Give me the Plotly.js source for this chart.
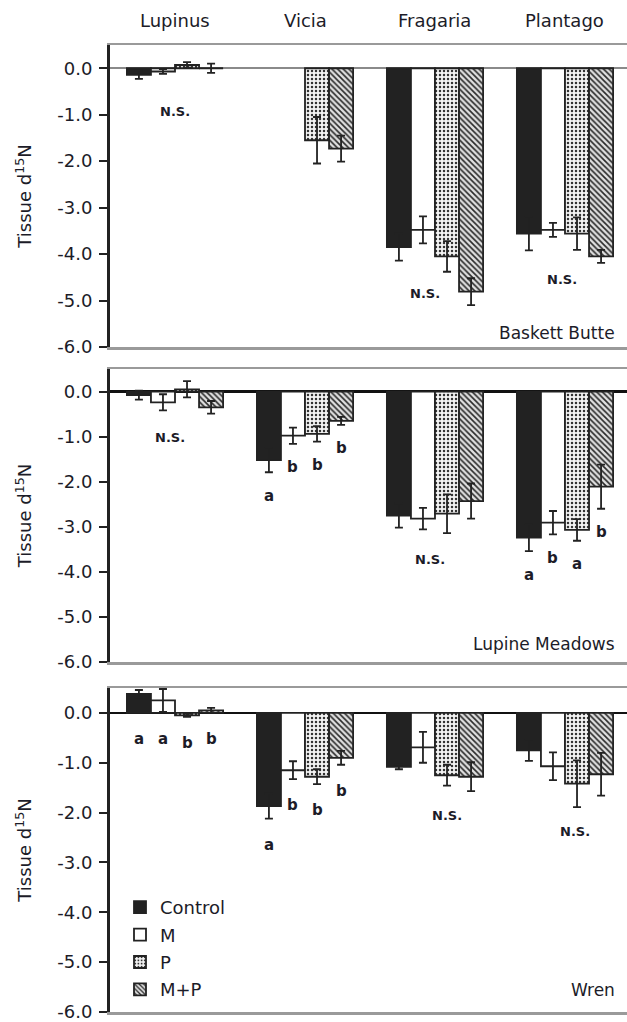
<!DOCTYPE html>
<html>
<head>
<meta charset="utf-8">
<script src="https://cdn.plot.ly/plotly-3.0.1.min.js"></script>
<style>html,body{margin:0;padding:0;background:#fff;}</style>
</head>
<body>
<div id="chart" style="width:627px;height:1022px;"></div>
<script>
// ---- data ----
const categories = ['Lupinus', 'Vicia', 'Fragaria', 'Plantago'];
const seriesNames = ['Control', 'M', 'P', 'M+P'];

// Baskett Butte
const bbControl = [-0.14, null, -3.85, -3.56];
const bbControlErr = [0.09, null, 0.29, 0.36];
const bbM = [-0.07, null, -3.48, -3.48];
const bbMErr = [0.05, null, 0.29, 0.15];
const bbP = [0.07, -1.55, -4.05, -3.56];
const bbPErr = [0.06, 0.50, 0.33, 0.35];
const bbMP = [0.0, -1.73, -4.81, -4.05];
const bbMPErr = [0.10, 0.28, 0.29, 0.14];

// Lupine Meadows
const lmControl = [-0.08, -1.52, -2.75, -3.24];
const lmControlErr = [0.10, 0.27, 0.27, 0.30];
const lmM = [-0.24, -0.98, -2.82, -2.91];
const lmMErr = [0.18, 0.18, 0.24, 0.26];
const lmP = [0.05, -0.94, -2.71, -3.07];
const lmPErr = [0.18, 0.17, 0.43, 0.24];
const lmMP = [-0.35, -0.65, -2.43, -2.11];
const lmMPErr = [0.14, 0.09, 0.39, 0.49];

// Wren
const wrControl = [0.38, -1.87, -1.08, -0.75];
const wrControlErr = [0.08, 0.25, 0.05, 0.21];
const wrM = [0.25, -1.15, -0.69, -1.07];
const wrMErr = [0.23, 0.18, 0.31, 0.28];
const wrP = [-0.05, -1.28, -1.25, -1.42];
const wrPErr = [0.03, 0.15, 0.21, 0.47];
const wrMP = [0.05, -0.90, -1.28, -1.23];
const wrMPErr = [0.05, 0.14, 0.29, 0.43];

const siteNames = ['Baskett Butte', 'Lupine Meadows', 'Wren'];

// significance letters per category index, one per series
const bbLetters = {};
const lmLetters = { 1: ['a', 'b', 'b', 'b'], 3: ['a', 'b', 'a', 'b'] };
const wrLetters = { 0: ['a', 'a', 'b', 'b'], 1: ['a', 'b', 'b', 'b'] };

// N.S. labels: category position and y value
const bbNS = [[0.0, -0.94], [1.92, -4.85], [2.98, -4.55]];
const lmNS = [[-0.04, -1.02], [1.96, -3.73]];
const wrNS = [[2.09, -2.05], [3.08, -2.37]];

const yTickVals = [0, -1, -2, -3, -4, -5, -6];
const yTickText = ['0.0', '-1.0', '-2.0', '-3.0', '-4.0', '-5.0', '-6.0'];

// ---- styling ----
const FONT = 'DejaVu Sans, sans-serif';
const TXT = '#1c1c28';
const LINE = '#222';

const panels = [
  { vals: [bbControl, bbM, bbP, bbMP], errs: [bbControlErr, bbMErr, bbPErr, bbMPErr], letters: bbLetters, ns: bbNS, domain: [1 - 347 / 1022, 1 - 45 / 1022], zero: '#8a8a8a', labelY: -5.7 },
  { vals: [lmControl, lmM, lmP, lmMP], errs: [lmControlErr, lmMErr, lmPErr, lmMPErr], letters: lmLetters, ns: lmNS, domain: [1 - 662 / 1022, 1 - 369 / 1022], zero: '#111', labelY: -5.6 },
  { vals: [wrControl, wrM, wrP, wrMP], errs: [wrControlErr, wrMErr, wrPErr, wrMPErr], letters: wrLetters, ns: wrNS, domain: [1 - 1012 / 1022, 1 - 688 / 1022], zero: '#111', labelY: -5.55 }
];

const markerStyles = [
  { color: '#222222', line: { color: LINE, width: 1.8 } },
  { color: '#ffffff', line: { color: LINE, width: 1.8 } },
  { color: '#ffffff', line: { color: LINE, width: 1.8 }, pattern: { shape: '.', fgcolor: '#333', bgcolor: '#f4f4f4', size: 4, solidity: 0.3 } },
  { color: '#ffffff', line: { color: LINE, width: 1.8 }, pattern: { shape: '\\', fgcolor: '#2a2a2a', bgcolor: '#e0e0e0', size: 4, solidity: 0.4 } }
];

const traces = [];
const layout = {
  width: 627, height: 1022,
  margin: { l: 110, r: 0, t: 0, b: 0 },
  paper_bgcolor: '#fff', plot_bgcolor: '#fff',
  barmode: 'group', bargap: 0.26, bargroupgap: 0,
  showlegend: true,
  legend: {
    x: 10 / 517, xanchor: 'left', y: 1 - 889 / 1022, yanchor: 'top',
    font: { family: FONT, size: 18, color: TXT },
    bgcolor: 'rgba(0,0,0,0)', tracegroupgap: 1, itemwidth: 30
  },
  annotations: [],
  font: { family: FONT, color: TXT }
};

const groupW = 1 - 0.26;
const barW = groupW / 4;

panels.forEach((p, pi) => {
  const ax = pi === 0 ? '' : String(pi + 1);
  const xName = 'x' + ax, yName = 'y' + ax;
  seriesNames.forEach((s, si) => {
    traces.push({
      type: 'bar', name: s, x: categories, y: p.vals[si],
      xaxis: xName, yaxis: yName,
      marker: markerStyles[si],
      error_y: { type: 'data', array: p.errs[si], visible: true, color: LINE, thickness: 1.8, width: 4 },
      showlegend: pi === 2, legendgroup: s, hoverinfo: 'skip'
    });
  });
  layout['xaxis' + ax] = {
    domain: [0, 1], anchor: yName, type: 'category',
    categoryorder: 'array', categoryarray: categories,
    range: [-0.5, 3.477], showline: true, mirror: true,
    linecolor: '#9a9a9a', linewidth: 2.5,
    showticklabels: false, ticks: '', showgrid: false, zeroline: false, fixedrange: true
  };
  layout['yaxis' + ax] = {
    domain: p.domain, anchor: xName, range: [-6, 0.5],
    tickvals: yTickVals, ticktext: yTickText,
    ticks: 'outside', ticklen: 8, tickwidth: 2, tickcolor: LINE,
    ticklabelstandoff: 3, ticklabeloverflow: 'allow',
    showline: true, linecolor: LINE, linewidth: 3,
    zeroline: true, zerolinecolor: p.zero, zerolinewidth: 2.5,
    showgrid: false, fixedrange: true,
    tickfont: { family: FONT, size: 18, color: TXT },
    title: { text: 'Tissue d<sup>15</sup>N', font: { family: FONT, size: 18, color: TXT }, standoff: 21 }
  };
  // site label
  layout.annotations.push({
    xref: 'paper', yref: yName, x: 0.981, y: p.labelY, xanchor: 'right', yanchor: 'middle',
    text: siteNames[pi], showarrow: false, font: { family: FONT, size: 17, color: TXT }
  });
  // N.S.
  p.ns.forEach(n => {
    layout.annotations.push({
      xref: xName, yref: yName, x: n[0], y: n[1], xanchor: 'center', yanchor: 'middle',
      text: '<b>N.S.</b>', showarrow: false, font: { family: FONT, size: 13, color: TXT }
    });
  });
  // letters
  Object.keys(p.letters).forEach(ci => {
    const c = Number(ci);
    p.letters[ci].forEach((L, si) => {
      const v = p.vals[si][c], e = p.errs[si][c];
      const low = Math.min(0, v - e);
      layout.annotations.push({
        xref: xName, yref: yName, x: c - groupW / 2 + barW * (si + 0.5), y: low - 0.52,
        xanchor: 'center', yanchor: 'middle',
        text: '<b>' + L + '</b>', showarrow: false, font: { family: FONT, size: 15, color: TXT }
      });
    });
  });
});

// category labels at the top
categories.forEach((c, ci) => {
  layout.annotations.push({
    xref: 'x', yref: 'paper', x: ci, y: 1 - 20 / 1022, xanchor: 'center', yanchor: 'middle',
    text: c, showarrow: false, font: { family: FONT, size: 18, color: TXT }
  });
});

Plotly.newPlot('chart', traces, layout, { displayModeBar: false, staticPlot: true });
</script>
</body>
</html>
